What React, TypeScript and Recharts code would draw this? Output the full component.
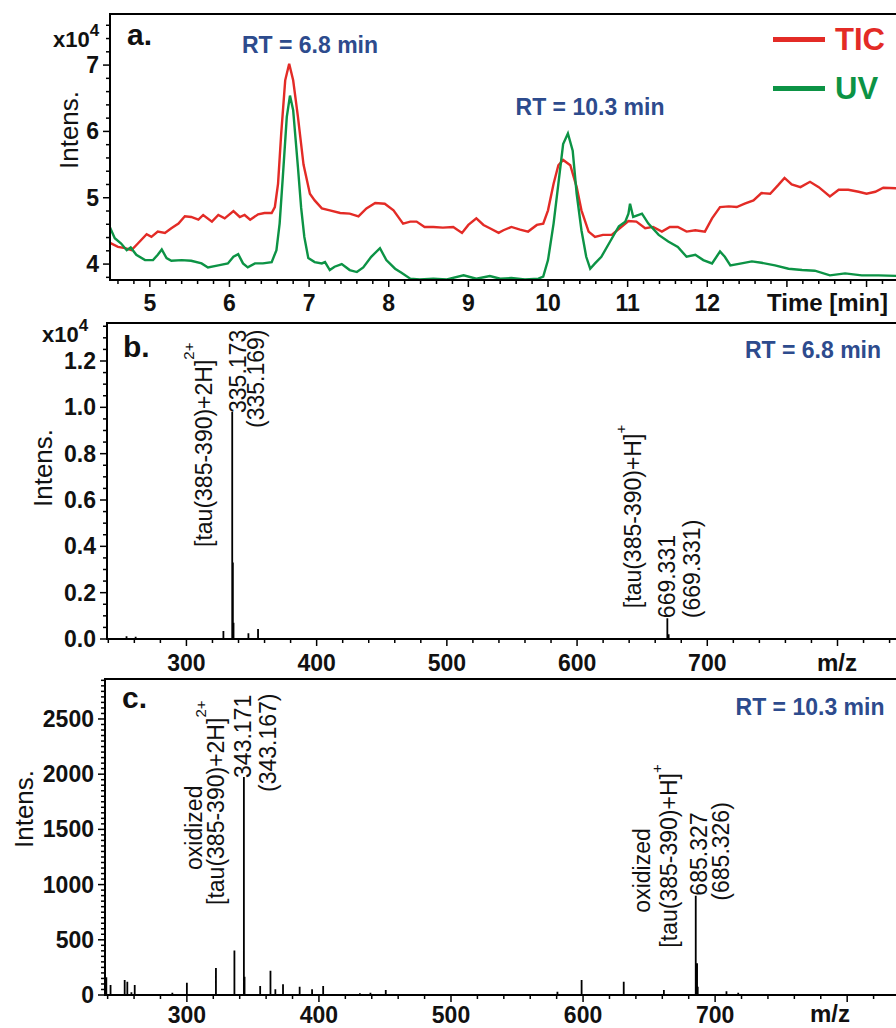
import React from "react";
import {
  LineChart,
  Line,
  XAxis,
  YAxis,
  ReferenceArea,
  ReferenceDot,
  Legend,
} from "recharts";

const FONT = "'Liberation Sans', Arial, Helvetica, sans-serif";
const RED = "#e32b26";
const GREEN = "#0c9345";
const BLUE = "#2d4b8d";
const INK = "#111";

// a. chromatogram, intensity in units of 10^4
const ticTime = [
  4.5, 4.6, 4.69, 4.77, 4.85, 4.96, 5.02, 5.1, 5.19, 5.27, 5.36, 5.44, 5.52, 5.61, 5.67,
  5.78, 5.86, 5.94, 6.05, 6.13, 6.19, 6.26, 6.36, 6.44, 6.53, 6.57, 6.61, 6.65, 6.7, 6.75,
  6.8, 6.86, 6.93, 7.01, 7.07, 7.16, 7.26, 7.39, 7.51, 7.62, 7.72, 7.83, 7.95, 8.06, 8.18,
  8.27, 8.35, 8.45, 8.56, 8.68, 8.81, 8.92, 9.0, 9.1, 9.19, 9.27, 9.38, 9.44, 9.54, 9.65,
  9.75, 9.86, 9.94, 10.0, 10.07, 10.13, 10.19, 10.28, 10.36, 10.42, 10.51, 10.59, 10.69,
  10.8, 10.9, 11.01, 11.11, 11.22, 11.32, 11.43, 11.53, 11.63, 11.74, 11.85, 11.97, 12.06,
  12.16, 12.27, 12.37, 12.47, 12.58, 12.68, 12.79, 12.89, 12.97, 13.06, 13.17, 13.29, 13.4,
  13.54, 13.65, 13.77, 13.9, 14.0, 14.11, 14.21, 14.42,
];
const ticIntensity = [
  4.32, 4.26, 4.24, 4.21, 4.31, 4.45, 4.41, 4.49, 4.47, 4.54, 4.61, 4.72, 4.71, 4.67, 4.74,
  4.64, 4.74, 4.69, 4.8, 4.71, 4.74, 4.67, 4.75, 4.77, 4.77, 4.86, 5.21, 5.97, 6.77, 7.02,
  6.77, 6.22, 5.5, 5.06, 4.96, 4.84, 4.81, 4.77, 4.76, 4.72, 4.84, 4.92, 4.91, 4.81, 4.61,
  4.64, 4.64, 4.56, 4.56, 4.55, 4.56, 4.47, 4.59, 4.69, 4.59, 4.54, 4.47, 4.51, 4.56, 4.52,
  4.49, 4.59, 4.61, 4.81, 5.21, 5.49, 5.57, 5.49, 5.16, 4.81, 4.49, 4.41, 4.44, 4.44, 4.54,
  4.65, 4.64, 4.54, 4.56, 4.49, 4.56, 4.56, 4.49, 4.51, 4.49, 4.69, 4.86, 4.87, 4.86, 4.91,
  4.96, 5.07, 5.06, 5.19, 5.3, 5.2, 5.16, 5.24, 5.16, 5.02, 5.12, 5.12, 5.09, 5.06, 5.09,
  5.15, 5.14,
];
const uvTime = [
  4.5, 4.56, 4.64, 4.71, 4.76, 4.83, 4.94, 5.04, 5.1, 5.15, 5.21, 5.27, 5.4, 5.52, 5.65,
  5.73, 5.86, 5.98, 6.05, 6.11, 6.17, 6.23, 6.32, 6.42, 6.53, 6.59, 6.63, 6.67, 6.72, 6.76,
  6.8, 6.86, 6.9, 6.94, 6.99, 7.07, 7.16, 7.2, 7.26, 7.32, 7.41, 7.51, 7.6, 7.68, 7.78,
  7.89, 7.97, 8.08, 8.16, 8.27, 8.39, 8.56, 8.73, 8.94, 9.1, 9.27, 9.4, 9.54, 9.71, 9.88,
  9.94, 10.0, 10.07, 10.13, 10.19, 10.25, 10.31, 10.36, 10.42, 10.48, 10.53, 10.59, 10.67,
  10.78, 10.89, 10.97, 11.01, 11.03, 11.07, 11.18, 11.26, 11.39, 11.51, 11.63, 11.74, 11.85,
  11.95, 12.06, 12.16, 12.22, 12.29, 12.43, 12.56, 12.68, 12.85, 13.02, 13.19, 13.35, 13.54,
  13.73, 13.94, 14.15, 14.42,
];
const uvIntensity = [
  4.55, 4.39, 4.31, 4.21, 4.25, 4.14, 4.06, 4.06, 4.14, 4.22, 4.09, 4.05, 4.06, 4.05, 4.01,
  3.95, 3.98, 4.01, 4.11, 4.15, 4.01, 3.95, 4.01, 4.01, 4.03, 4.21, 4.61, 5.31, 6.22, 6.54,
  6.32, 5.46, 4.85, 4.41, 4.09, 4.03, 4.01, 4.03, 3.91, 3.96, 4.0, 3.91, 3.88, 3.95, 4.11,
  4.24, 4.06, 3.93, 3.87, 3.78, 3.77, 3.78, 3.77, 3.83, 3.78, 3.82, 3.78, 3.79, 3.77, 3.78,
  3.81, 4.06, 4.61, 5.21, 5.81, 5.97, 5.71, 5.06, 4.51, 4.11, 3.93, 4.01, 4.11, 4.34, 4.57,
  4.64, 4.76, 4.91, 4.71, 4.76, 4.61, 4.44, 4.34, 4.26, 4.11, 4.14, 4.06, 4.01, 4.19, 4.11,
  3.98, 4.01, 4.04, 4.02, 3.98, 3.93, 3.91, 3.9, 3.83, 3.86, 3.83, 3.83, 3.82,
];

// b. mass spectrum at RT 6.8 min, intensity in units of 10^4
const specBMz = [254, 261, 328.4, 335.17, 335.67, 336.17, 347.6, 355, 669.33, 670.33];
const specBIntensity = [0.012, 0.01, 0.035, 0.98, 0.33, 0.07, 0.025, 0.043, 0.09, 0.02];

// c. mass spectrum at RT 10.3 min
const specCMz = [
  239, 242.2, 252.9, 254.9, 258, 260.5, 289, 300, 322, 336, 343.17, 343.67, 355.5, 363.3,
  367, 372.8, 385.4, 394.8, 403.2, 431, 439, 450.6, 580.6, 598.9, 630.8, 661.2, 685.33,
  686.33, 686.83, 708.6, 717.5,
];
const specCIntensity = [
  160, 90, 136, 120, 25, 90, 20, 112, 245, 402, 1975, 166, 82, 220, 52, 97, 75, 52, 82, 15,
  20, 45, 30, 136, 120, 45, 900, 287, 75, 35, 20,
];

// tick labels
const timeLabels = [5, 6, 7, 8, 9, 10, 11, 12];
const timeMajors = [5, 6, 7, 8, 9, 10, 11, 12, 13, 14];
const ticLabels = [4, 5, 6, 7];
const mzLabels = [300, 400, 500, 600, 700];
const mzMajors = [300, 400, 500, 600, 700, 800];
const bLabels = [0, 0.2, 0.4, 0.6, 0.8, 1.0, 1.2];
const cLabels = [0, 500, 1000, 1500, 2000, 2500];

const round = (v: number) => Math.round(v * 1000) / 1000;
const range = (a: number, b: number, s: number) => {
  const out: number[] = [];
  for (let v = a; v <= b + 1e-9; v += s) out.push(round(v));
  return out;
};

const zip = (xs: number[], ys: number[], key: string) =>
  xs.slice(0, Math.min(xs.length, ys.length)).map((x, i) => ({ [key]: x, v: ys[i] }));

// stick spectrum: each peak drawn as baseline -> top -> baseline
const sticks = (mz: number[], inten: number[]) =>
  mz.flatMap((m, i) => [
    { mz: m, v: 0 },
    { mz: m, v: inten[i] },
    { mz: m, v: 0 },
  ]);

const ticData = zip(ticTime, ticIntensity, "t");
const uvData = zip(uvTime, uvIntensity, "t");
const specBData = sticks(specBMz, specBIntensity);
const specCData = sticks(specCMz, specCIntensity);

function XTick(props: any) {
  const { x, y, payload, majors, labels, offset, fmt } = props;
  const v = round(payload.value);
  const major = majors.includes(v);
  return (
    <g>
      <line x1={x} x2={x} y1={y} y2={y + (major ? 7 : 4)} stroke="#000" strokeWidth={1.5} />
      {labels.includes(v) && (
        <text
          x={x}
          y={y + offset}
          textAnchor="middle"
          fontFamily={FONT}
          fontWeight="bold"
          fontSize={23}
          fill={INK}
        >
          {fmt ? fmt(v) : v}
        </text>
      )}
    </g>
  );
}

function YTick(props: any) {
  const { x, y, payload, majors, labels, fmt } = props;
  const v = round(payload.value);
  const major = majors.includes(v);
  return (
    <g>
      <line x1={x} x2={x - (major ? 7 : 4)} y1={y} y2={y} stroke="#000" strokeWidth={1.5} />
      {labels.includes(v) && (
        <text
          x={x - 11}
          y={y + 8}
          textAnchor="end"
          fontFamily={FONT}
          fontWeight="bold"
          fontSize={23}
          fill={INK}
        >
          {fmt ? fmt(v) : v}
        </text>
      )}
    </g>
  );
}

type Note = { text: string; sup?: string; supDy?: number; dx: number; dy: number };

// rotated peak annotations, offsets relative to the peak top
function PeakNotes({ viewBox, notes }: { viewBox: any; notes: Note[] }) {
  if (!viewBox) return null;
  const cx = viewBox.x + (viewBox.width ?? 0) / 2;
  const cy = viewBox.y + (viewBox.height ?? 0) / 2;
  return (
    <g>
      {notes.map((n, i) => {
        const x = cx + n.dx;
        const y = cy + n.dy;
        return (
          <text
            key={i}
            x={x}
            y={y}
            transform={`rotate(-90 ${x} ${y})`}
            fontFamily={FONT}
            fontSize={23}
            fill={INK}
          >
            {n.text}
            {n.sup && (
              <tspan dy={n.supDy} fontSize={15}>
                {n.sup}
              </tspan>
            )}
          </text>
        );
      })}
    </g>
  );
}

const bNotes: { mz: number; notes: Note[] }[] = [
  {
    mz: 335.17,
    notes: [
      { text: "[tau(385-390)+2H]", sup: "2+", supDy: -18, dx: -20, dy: 135 },
      { text: "335.173", dx: 13.5, dy: 1 },
      { text: "(335.169)", dx: 31.5, dy: 16 },
    ],
  },
  {
    mz: 669.33,
    notes: [
      { text: "[tau(385-390)+H]", sup: "+", supDy: -15, dx: -26, dy: -10 },
      { text: "669.331", dx: 8, dy: 0 },
      { text: "(669.331)", dx: 33, dy: 0 },
    ],
  },
];

const cNotes: { mz: number; notes: Note[] }[] = [
  {
    mz: 343.17,
    notes: [
      { text: "oxidized", dx: -42, dy: 93 },
      { text: "[tau(385-390)+2H]", sup: "2+", supDy: -18, dx: -20, dy: 128 },
      { text: "343.171", dx: 7.5, dy: 1 },
      { text: "(343.167)", dx: 32.5, dy: 15 },
    ],
  },
  {
    mz: 685.33,
    notes: [
      { text: "oxidized", dx: -45.5, dy: 17 },
      { text: "[tau(385-390)+H]", sup: "+", supDy: -15, dx: -19, dy: 52 },
      { text: "685.327", dx: 11, dy: 0 },
      { text: "(685.326)", dx: 33.5, dy: 5 },
    ],
  },
];

function ChromLegend({ payload }: any) {
  return (
    <div style={{ fontFamily: FONT }}>
      {(payload ?? []).map((e: any) => (
        <div key={e.value} style={{ display: "flex", alignItems: "center", height: 49 }}>
          <span
            style={{
              display: "inline-block",
              width: 52,
              height: 5,
              background: e.color,
              marginRight: 10,
            }}
          />
          <span style={{ color: e.color, fontWeight: "bold", fontSize: 31, lineHeight: "31px" }}>
            {e.value}
          </span>
        </div>
      ))}
    </div>
  );
}

const axisLine = { stroke: "#000", strokeWidth: 2 };

function Chromatogram() {
  const xDom: [number, number] = [4.5, 14.42];
  const yDom: [number, number] = [3.76, 7.77];
  return (
    <div style={{ position: "absolute", left: 0, top: 0 }}>
      <LineChart width={920} height={330} margin={{ top: 14, right: 20, bottom: 0, left: 0 }}>
        <XAxis
          type="number"
          dataKey="t"
          domain={xDom}
          allowDataOverflow
          ticks={range(4.6, 14.4, 0.2)}
          interval={0}
          height={50}
          tickSize={0}
          tickMargin={0}
          tickLine={false}
          axisLine={axisLine}
          tick={(p: any) => <XTick {...p} majors={timeMajors} labels={timeLabels} offset={31} />}
        />
        <YAxis
          type="number"
          domain={yDom}
          allowDataOverflow
          ticks={range(3.8, 7.6, 0.2)}
          interval={0}
          width={110}
          tickSize={0}
          tickMargin={0}
          tickLine={false}
          axisLine={axisLine}
          tick={(p: any) => <YTick {...p} majors={ticLabels} labels={ticLabels} />}
        />
        <ReferenceArea
          x1={xDom[0]}
          x2={xDom[1]}
          y1={yDom[0]}
          y2={yDom[1]}
          fill="none"
          stroke="#000"
          strokeWidth={2}
        />
        <Line
          data={ticData}
          dataKey="v"
          name="TIC"
          type="linear"
          stroke={RED}
          strokeWidth={2.4}
          dot={false}
          isAnimationActive={false}
        />
        <Line
          data={uvData}
          dataKey="v"
          name="UV"
          type="linear"
          stroke={GREEN}
          strokeWidth={2.4}
          dot={false}
          isAnimationActive={false}
        />
        <Legend
          layout="vertical"
          align="center"
          verticalAlign="middle"
          wrapperStyle={{ left: 773, top: 15, width: 130 }}
          content={(p: any) => <ChromLegend payload={p.payload} />}
        />
      </LineChart>
    </div>
  );
}

function Spectrum(props: {
  top: number;
  height: number;
  marginTop: number;
  yWidth: number;
  xHeight: number;
  xDom: [number, number];
  yDom: [number, number];
  yTicks: number[];
  yLabels: number[];
  yFmt?: (v: number) => string;
  labelOffset: number;
  data: { mz: number; v: number }[];
  mz: number[];
  inten: number[];
  notes: { mz: number; notes: Note[] }[];
}) {
  const { xDom, yDom } = props;
  return (
    <div style={{ position: "absolute", left: 0, top: props.top }}>
      <LineChart
        width={920}
        height={props.height}
        margin={{ top: props.marginTop, right: 20, bottom: 0, left: 0 }}
      >
        <XAxis
          type="number"
          dataKey="mz"
          domain={xDom}
          allowDataOverflow
          ticks={range(240, 840, 20)}
          interval={0}
          height={props.xHeight}
          tickSize={0}
          tickMargin={0}
          tickLine={false}
          axisLine={axisLine}
          tick={(p: any) => (
            <XTick {...p} majors={mzMajors} labels={mzLabels} offset={props.labelOffset} />
          )}
        />
        <YAxis
          type="number"
          domain={yDom}
          allowDataOverflow
          ticks={props.yTicks}
          interval={0}
          width={props.yWidth}
          tickSize={0}
          tickMargin={0}
          tickLine={false}
          axisLine={axisLine}
          tick={(p: any) => (
            <YTick {...p} majors={props.yLabels} labels={props.yLabels} fmt={props.yFmt} />
          )}
        />
        <ReferenceArea
          x1={xDom[0]}
          x2={xDom[1]}
          y1={yDom[0]}
          y2={yDom[1]}
          fill="none"
          stroke="#000"
          strokeWidth={2}
        />
        <Line
          data={props.data}
          dataKey="v"
          type="linear"
          stroke="#000"
          strokeWidth={1.8}
          dot={false}
          isAnimationActive={false}
        />
        {props.notes.map((n) => {
          const i = props.mz.indexOf(n.mz);
          return (
            <ReferenceDot
              key={n.mz}
              x={n.mz}
              y={props.inten[i]}
              r={0}
              fill="none"
              stroke="none"
              label={(p: any) => <PeakNotes viewBox={p.viewBox} notes={n.notes} />}
            />
          );
        })}
      </LineChart>
    </div>
  );
}

function Rot({ x, y, size, children }: { x: number; y: number; size: number; children: any }) {
  return (
    <text
      x={x}
      y={y}
      transform={`rotate(-90 ${x} ${y})`}
      textAnchor="middle"
      fontFamily={FONT}
      fontSize={size}
      fill={INK}
    >
      {children}
    </text>
  );
}

function Overlay() {
  const b = { fontFamily: FONT, fontWeight: 700 } as const;
  return (
    <svg
      width={896}
      height={1028}
      style={{ position: "absolute", left: 0, top: 0, pointerEvents: "none" }}
    >
      {/* panel a */}
      <text x={127} y={45} fontSize={30} fill={INK} {...b}>
        a.
      </text>
      <text x={53} y={47} fontSize={22} fill={INK} {...b}>
        x10
        <tspan dy={-11} fontSize={17}>
          4
        </tspan>
      </text>
      <Rot x={78} y={130} size={26}>
        Intens.
      </Rot>
      <text x={310} y={53} fontSize={23} fill={BLUE} textAnchor="middle" {...b}>
        RT = 6.8 min
      </text>
      <text x={590} y={115} fontSize={23} fill={BLUE} textAnchor="middle" {...b}>
        RT = 10.3 min
      </text>
      <text x={767} y={311} fontSize={24} fill={INK} {...b}>
        Time [min]
      </text>

      {/* panel b */}
      <text x={123} y={357} fontSize={30} fill={INK} {...b}>
        b.
      </text>
      <text x={42} y={342} fontSize={22} fill={INK} {...b}>
        x10
        <tspan dy={-11} fontSize={17}>
          4
        </tspan>
      </text>
      <Rot x={52} y={468} size={26}>
        Intens.
      </Rot>
      <text x={813} y={358} fontSize={23} fill={BLUE} textAnchor="middle" {...b}>
        RT = 6.8 min
      </text>
      <text x={837} y={671} fontSize={24} fill={INK} textAnchor="middle" {...b}>
        m/z
      </text>

      {/* panel c */}
      <text x={122} y={708} fontSize={30} fill={INK} {...b}>
        c.
      </text>
      <Rot x={33} y={809} size={26}>
        Intens.
      </Rot>
      <text x={810} y={715} fontSize={23} fill={BLUE} textAnchor="middle" {...b}>
        RT = 10.3 min
      </text>
      <text x={830} y={1022} fontSize={24} fill={INK} textAnchor="middle" {...b}>
        m/z
      </text>
    </svg>
  );
}

export default function App() {
  return (
    <div
      style={{
        position: "absolute",
        left: 0,
        top: 0,
        width: 896,
        height: 1028,
        overflow: "hidden",
        background: "#fff",
        fontFamily: FONT,
      }}
    >
      <Chromatogram />
      <Spectrum
        top={310}
        height={380}
        marginTop={13}
        yWidth={107}
        xHeight={51}
        xDom={[239, 848]}
        yDom={[0, 1.364]}
        yTicks={range(0, 1.35, 0.05)}
        yLabels={bLabels}
        yFmt={(v) => v.toFixed(1)}
        labelOffset={32}
        data={specBData}
        mz={specBMz}
        inten={specBIntensity}
        notes={bNotes}
      />
      <Spectrum
        top={665}
        height={363}
        marginTop={14}
        yWidth={105}
        xHeight={33}
        xDom={[238, 840]}
        yDom={[0, 2862]}
        yTicks={range(0, 2850, 50)}
        yLabels={cLabels}
        labelOffset={28}
        data={specCData}
        mz={specCMz}
        inten={specCIntensity}
        notes={cNotes}
      />
      <Overlay />
    </div>
  );
}
